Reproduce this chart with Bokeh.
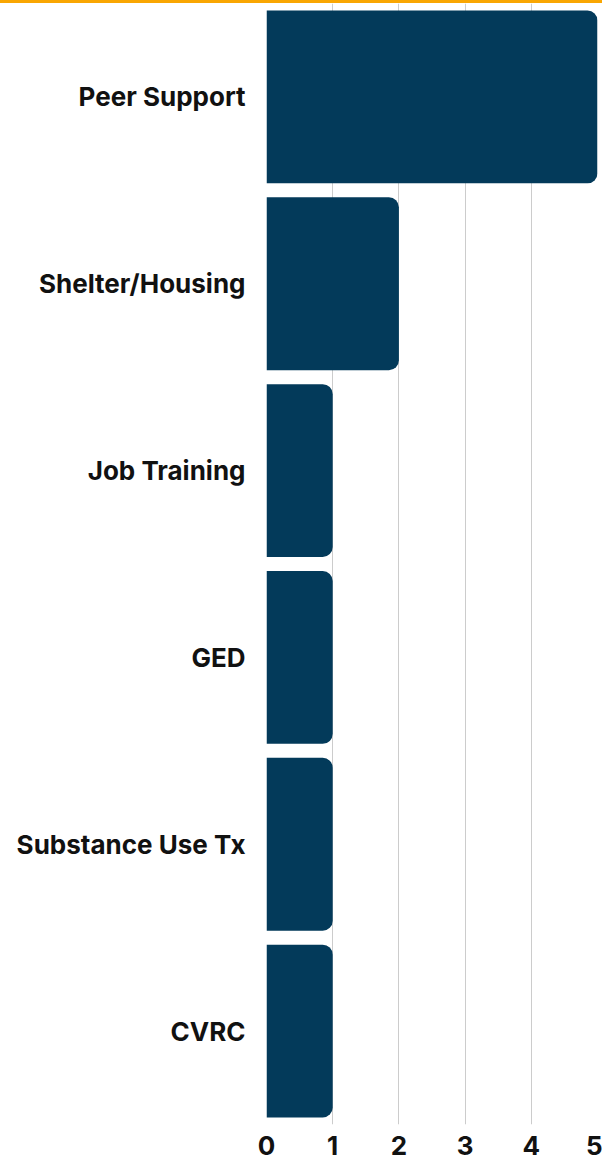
from bokeh.plotting import figure
from bokeh.models import FactorRange, Range1d, Div, FixedTicker
from bokeh.layouts import column
from bokeh.embed import file_html
from bokeh.resources import INLINE

categories = ["Peer Support", "Shelter/Housing", "Job Training", "GED", "Substance Use Tx", "CVRC"]
counts = [5, 2, 1, 1, 1, 1]
x_ticks = [0, 1, 2, 3, 4, 5]

NAVY = "#033A5A"
ORANGE = "#F9A602"
FONT = "Inter"

p = figure(width=602, height=1157,
           y_range=FactorRange(*reversed(categories)),
           x_range=Range1d(0, 5),
           output_backend="svg", toolbar_location=None,
           min_border_left=266, min_border_right=5,
           min_border_top=0, min_border_bottom=36)

p.hbar(y=categories, left=0, right=counts, height=0.925,
       fill_color=NAVY, line_color=None, border_radius=(0, 10, 10, 0))

p.outline_line_color = None
p.ygrid.grid_line_color = None
p.xgrid.grid_line_color = "#CCCCCC"
p.xgrid.grid_line_width = 1

p.xaxis.ticker = FixedTicker(ticks=x_ticks)
for ax in (p.xaxis[0], p.yaxis[0]):
    ax.axis_line_color = None
    ax.major_tick_line_color = None
    ax.minor_tick_line_color = None
    ax.major_label_text_font = FONT
    ax.major_label_text_font_style = "bold"
    ax.major_label_text_color = "#111111"

p.yaxis.major_label_text_font_size = "26px"
p.yaxis.major_label_standoff = 15
p.xaxis.major_label_text_font_size = "26px"
p.xaxis.major_label_standoff = 5

bar = Div(text="", width=602, height=3, margin=0,
          styles={"background-color": ORANGE})

layout = column(bar, p, margin=0, spacing=0)

open("out.html", "w").write(file_html(layout, INLINE))
